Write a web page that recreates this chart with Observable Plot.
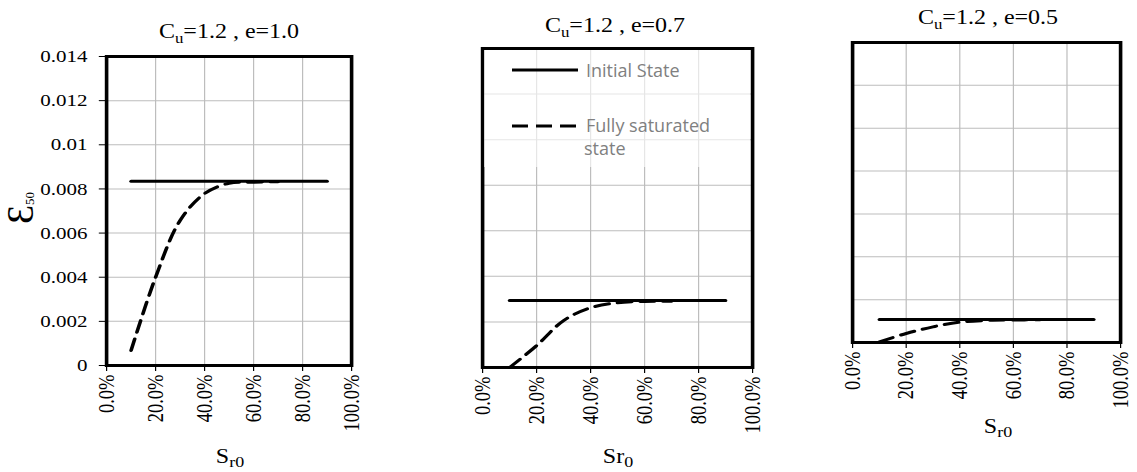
<!DOCTYPE html>
<html>
<head>
<meta charset="utf-8">
<script src="https://cdn.jsdelivr.net/npm/d3@7"></script>
<script src="https://cdn.jsdelivr.net/npm/@observablehq/plot@0.6"></script>
<style>
  body { margin: 0; background: #fff; }
  #root { position: relative; width: 1137px; height: 472px; overflow: hidden; background: #fff;
          font-family: "Liberation Serif", "Times New Roman", serif; color: #000; }
  .panel { position: absolute; top: 0; transform-origin: 0 0; }
  .panel svg { display: block; overflow: visible; background: transparent; }
  .lbl { position: absolute; white-space: nowrap; line-height: 0; transform: translate(-50%, 0) scaleX(1.2); }
  .lbl sub { vertical-align: baseline; position: relative; font-size: 15px; }
  .legend { position: absolute; }
  .legtext { position: absolute; white-space: nowrap; line-height: 0; font-family: "Open Sans", sans-serif;
             font-size: 18px; color: #808080; }
  #ylab { position: absolute; overflow: visible; }
</style>
</head>
<body>
<div id="root"></div>
<script>
// ---------- data ----------
const sr = [0.1, 0.2, 0.3, 0.4, 0.5, 0.6, 0.7];           // Sr0 of the fully saturated curve
const initialSr = [0.1, 0.9];                              // extent of the initial-state line
const initialE10 = 0.00835;
const initialE07 = 0.00294;
const initialE05 = 0.00107;
const saturatedE10 = [0.00068, 0.0040, 0.00657, 0.00779, 0.00826, 0.00830, 0.00833];
const saturatedE07 = [0.0, 0.00096, 0.00206, 0.00262, 0.00284, 0.00290, 0.00291];
const saturatedE05 = [0.00003, 0.00042, 0.00073, 0.00095, 0.00103, 0.00105, 0.00106];
const xTicks = [0, 0.2, 0.4, 0.6, 0.8, 1.0];
const xTickLabels = ["0.0%", "20.0%", "40.0%", "60.0%", "80.0%", "100.0%"];
const yTicks = [0, 0.002, 0.004, 0.006, 0.008, 0.01, 0.012, 0.014];
const yTickLabels = ["0", "0.002", "0.004", "0.006", "0.008", "0.01", "0.012", "0.014"];
const titles = ["C<sub>u</sub>=1.2 , e=1.0", "C<sub>u</sub>=1.2 , e=0.7", "C<sub>u</sub>=1.2 , e=0.5"];
const xLabels = ["S<sub>r0</sub>", "Sr<sub>0</sub>", "S<sub>r0</sub>"];
const yLabel = ["\u0190", "50"];
const legendLabels = ["Initial State", "Fully saturated", "state"];

const xLabelMap = new Map(xTicks.map((d, i) => [d, xTickLabels[i]]));
const yLabelMap = new Map(yTicks.map((d, i) => [d, yTickLabels[i]]));

// ---------- layout ----------
const S = 1.2; // horizontal stretch of the original figure
const root = document.getElementById("root");

const panels = [
  {frameL: 106, frameR: 351, frameT: 56, frameB: 365, initial: initialE10, sat: saturatedE10, showY: true,
   title: {x: 229, y: 38}, xlab: {x: 230, y: 463}},
  {frameL: 482, frameR: 752, frameT: 48, frameB: 367, initial: initialE07, sat: saturatedE07, showY: false,
   title: {x: 615, y: 32}, xlab: {x: 618, y: 463}},
  {frameL: 852, frameR: 1120, frameT: 42, frameB: 342, initial: initialE05, sat: saturatedE05, showY: false,
   title: {x: 988, y: 24}, xlab: {x: 998, y: 433}}
];

panels.forEach((p, k) => {
  const Lp = p.frameL - 106;
  const ml = 106 / S;
  const mr = 12;
  const width = (p.frameR - Lp) / S + mr;
  const marks = [
    Plot.gridX(xTicks, {stroke: "#bdbdbd", strokeOpacity: 1, strokeWidth: 1}),
    Plot.gridY(yTicks, {stroke: "#bdbdbd", strokeOpacity: 1, strokeWidth: 1}),
    Plot.axisX(xTicks, {tickFormat: d => xLabelMap.get(d), tickRotate: -90, tickSize: 6, tickPadding: 3,
                        fontSize: 18.5, label: null, stroke: "#000"}),
    Plot.line(initialSr, {x: d => d, y: () => p.initial, stroke: "#000", strokeWidth: 3}),
    Plot.line(sr, {x: d => d, y: (d, i) => p.sat[i], curve: "catmull-rom", stroke: "#000", strokeWidth: 3,
                   strokeDasharray: "12,7"}),
    Plot.frame({stroke: "#000", strokeWidth: 3})
  ];
  if (p.showY) {
    marks.splice(3, 0, Plot.axisY(yTicks, {tickFormat: d => yLabelMap.get(d), tickSize: 6, tickPadding: 10,
                                          fontSize: 17.5, label: null}));
  }
  const chart = Plot.plot({
    width, height: 472,
    marginLeft: ml, marginRight: mr, marginTop: p.frameT, marginBottom: 472 - p.frameB,
    x: {domain: [0, 1], axis: null},
    y: {domain: [0, 0.014], axis: null},
    style: {fontFamily: "Liberation Serif, Times New Roman, serif", fontSize: "17.5px", color: "#000",
            background: "transparent", overflow: "visible"},
    marks
  });
  const wrap = document.createElement("div");
  wrap.className = "panel";
  wrap.style.left = Lp + "px";
  wrap.style.transform = `scaleX(${S})`;
  wrap.appendChild(chart);
  root.appendChild(wrap);

  const t = document.createElement("div");
  t.className = "lbl";
  t.style.fontSize = "20px";
  t.style.left = p.title.x + "px";
  t.style.top = (p.title.y - 0.3375 * 20) + "px";
  t.innerHTML = titles[k];
  const ts = t.querySelector("sub");
  ts.style.top = "5px";
  ts.style.fontSize = "14px";
  root.appendChild(t);

  const xl = document.createElement("div");
  xl.className = "lbl";
  xl.style.fontSize = "20px";
  xl.style.left = p.xlab.x + "px";
  xl.style.top = (p.xlab.y - 0.3375 * 20) + "px";
  xl.innerHTML = xLabels[k];
  xl.querySelector("sub").style.top = "4px";
  root.appendChild(xl);
});

// y-axis title (rotated)
const ns = "http://www.w3.org/2000/svg";
const ysvg = document.createElementNS(ns, "svg");
ysvg.setAttribute("id", "ylab");
ysvg.setAttribute("width", 50);
ysvg.setAttribute("height", 120);
ysvg.style.left = "0px";
ysvg.style.top = "150px";
ysvg.innerHTML = `<text transform="translate(33,58) rotate(-90)" text-anchor="middle"
   font-family="Liberation Serif, DejaVu Serif, serif" fill="#000"><tspan font-size="38">${yLabel[0]}</tspan><tspan font-size="13" dy="1">${yLabel[1]}</tspan></text>`;
root.appendChild(ysvg);

// legend (panel 2)
const leg = document.createElementNS(ns, "svg");
leg.setAttribute("class", "legend");
leg.setAttribute("width", 266);
leg.setAttribute("height", 117);
leg.style.left = "484px";
leg.style.top = "50px";
leg.innerHTML = `
  <rect x="0" y="0" width="266" height="117" fill="#fff" fill-opacity="0.62"></rect>
  <line x1="28" y1="20" x2="94" y2="20" stroke="#000" stroke-width="3"></line>
  <line x1="28" y1="76" x2="94" y2="76" stroke="#000" stroke-width="3" stroke-dasharray="16,8"></line>`;
root.appendChild(leg);

[[586, 76.7], [586, 132.3], [584, 155]].forEach(([x, y], i) => {
  const d = document.createElement("div");
  d.className = "legtext";
  d.style.left = x + "px";
  d.style.top = (y - 0.388 * 18) + "px";
  d.textContent = legendLabels[i];
  root.appendChild(d);
});
</script>
</body>
</html>
